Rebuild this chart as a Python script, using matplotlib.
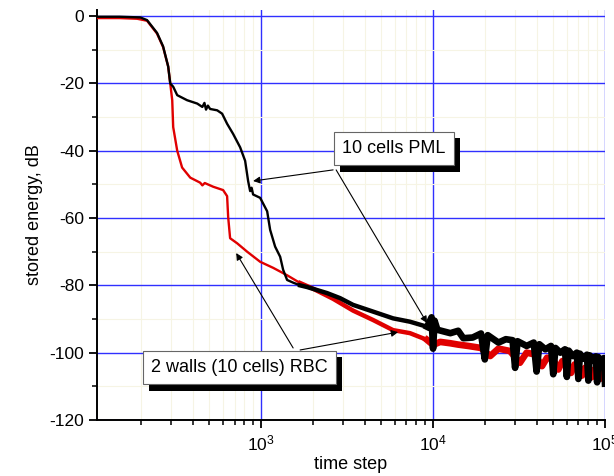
import numpy as np
import matplotlib
matplotlib.use('Agg')
import matplotlib.pyplot as plt
import matplotlib.patheffects as pe
from matplotlib.ticker import LogLocator, MultipleLocator, NullFormatter

plt.rcParams['font.family'] = ['Liberation Sans', 'DejaVu Sans']
plt.rcParams['mathtext.fontset'] = 'custom'
plt.rcParams['mathtext.rm'] = 'Liberation Sans'
plt.rcParams['mathtext.it'] = 'Liberation Sans:italic'
plt.rcParams['axes.unicode_minus'] = False

# 10 cells PML (black)
pml_t = [111, 150, 198, 217, 248, 269, 288, 296, 308, 325, 371, 425, 455, 468, 478, 490,
         505, 555, 593, 634, 687, 755, 807, 840, 863, 880, 898, 987, 1084, 1128, 1206,
         1290, 1343, 1416, 1535, 1685, 1850, 2419, 2878, 3425, 4480, 5850, 7340, 9225,
         9500, 9800, 10000, 10200, 10600, 12600, 14000, 15000, 17000, 19000, 20000,
         20800, 24000, 26500, 29000, 30000, 31000, 35000, 38500, 40000, 41500, 45000,
         48500, 50000, 51500, 55000, 58500, 60000, 61500, 65000, 68500, 70000, 71500,
         75000, 78500, 80000, 81500, 85000, 88500, 90000, 91500, 95000, 98500, 100000]
pml_db = [-0.2, -0.2, -0.4, -1.2, -5.0, -9.0, -15.0, -20.0, -21.0, -23.5, -25.0, -26.0,
          -27.0, -25.8, -27.8, -26.6, -27.6, -28.0, -29.0, -32.0, -35.0, -39.0, -43.0,
          -49.0, -52.0, -51.0, -53.0, -54.0, -58.0, -63.5, -68.5, -71.5, -75.4, -78.4,
          -79.2, -80.0, -80.5, -82.3, -83.8, -85.8, -87.8, -89.8, -90.8, -92.3,
          -91.0, -89.5, -98.8, -90.5, -93.2, -94.2, -93.5, -95.7, -95.5, -94.3, -102.0,
          -94.8, -97.0, -96.0, -96.3, -104.5, -96.6, -98.0, -97.0, -105.6, -97.5, -99.0,
          -98.0, -106.4, -98.6, -100.0, -99.0, -107.2, -99.4, -101.0, -100.0, -107.8,
          -100.3, -101.8, -100.6, -108.3, -100.8, -102.2, -101.1, -108.8, -101.3,
          -102.6, -101.6, -109.2]

# 2 walls (10 cells) RBC (red)
rbc_t = [111, 150, 190, 217, 248, 269, 288, 296, 304, 308, 325, 347, 387, 442, 455, 470,
         526, 601, 634, 643, 660, 725, 829, 987, 1175, 1416, 1685, 2005, 2622, 3425,
         4480, 5850, 7340, 9225, 10000, 11000, 12600, 14000, 16000, 19000, 21500, 24000,
         28000, 32000, 35000, 39000, 43000, 46000, 50000, 53500, 56500, 60000, 63500,
         66500, 70000, 73500, 76500, 80000, 83500, 86500, 90000, 93500, 96500, 100000]
rbc_db = [-0.6, -0.6, -0.8, -1.4, -5.2, -9.2, -15.0, -20.0, -25.0, -33.0, -40.0, -45.0,
          -48.0, -49.5, -50.3, -49.6, -50.7, -51.7, -53.5, -59.7, -66.0, -67.5, -70.0,
          -73.0, -74.8, -77.0, -79.3, -81.0, -84.0, -87.5, -90.3, -93.3, -94.2, -96.2,
          -97.7, -96.8, -97.2, -97.6, -98.0, -98.6, -101.0, -98.8, -99.5, -103.0, -100.0,
          -100.5, -104.0, -101.5, -102.0, -105.0, -102.5, -103.0, -106.0, -103.5, -104.0,
          -106.8, -104.5, -105.0, -107.3, -105.0, -105.5, -107.8, -105.8, -106.5]

fig = plt.figure(figsize=(6.14, 4.76), dpi=100)
ax = fig.add_axes([97 / 614, 1 - 420 / 476, 508 / 614, 410 / 476])

pml_t, pml_db = np.array(pml_t), np.array(pml_db)
rbc_t, rbc_db = np.array(rbc_t), np.array(rbc_db)

# thin early part, noisy band gets thicker with time
for t, db, c, z in [(rbc_t, rbc_db, '#e00000', 3), (pml_t, pml_db, 'black', 4)]:
    ax.plot(t, db, color=c, lw=1.7, zorder=z)
    m = t >= 1600
    ax.plot(t[m], db[m], color=c, lw=3.2, zorder=z, solid_joinstyle='round')
    m = t >= 9000
    ax.plot(t[m], db[m], color=c, lw=4.8, zorder=z, solid_joinstyle='round')

ax.set_xscale('log')
ax.set_xlim(111, 1e5)
ax.set_ylim(-120, 1.8)

ax.xaxis.set_major_locator(LogLocator(base=10))
ax.xaxis.set_minor_locator(LogLocator(base=10, subs=np.arange(2, 10)))
ax.xaxis.set_minor_formatter(NullFormatter())
ax.yaxis.set_major_locator(MultipleLocator(20))
ax.yaxis.set_minor_locator(MultipleLocator(10))

ax.set_axisbelow(True)
ax.grid(which='major', color='#3030ff', lw=1.0)
ax.grid(which='minor', color='#f6f4e4', lw=0.8)

for s in ['top', 'right']:
    ax.spines[s].set_visible(False)
for s in ['left', 'bottom']:
    ax.spines[s].set_linewidth(1.4)

ax.tick_params(which='major', direction='out', length=6, width=1.3, labelsize=12.5)
ax.tick_params(which='minor', direction='out', length=3.5, width=1.1)

ax.set_xlabel('time step', fontsize=13, labelpad=2)
ax.set_ylabel('stored energy, dB', fontsize=13, labelpad=4)

arrow = dict(arrowstyle='-|>', color='black', lw=0.8, mutation_scale=10,
             shrinkA=0, shrinkB=0)
ax.annotate('', xy=(898, -49.0), xytext=(2622, -45.7), arrowprops=arrow, zorder=6)
ax.annotate('', xy=(9225, -91.2), xytext=(2730, -45.7), arrowprops=arrow, zorder=6)
ax.annotate('', xy=(716, -70.4), xytext=(1535, -98.6), arrowprops=arrow, zorder=6)
ax.annotate('', xy=(6260, -93.9), xytext=(1685, -99.2), arrowprops=arrow, zorder=6)

shadow = [pe.SimplePatchShadow(offset=(4.5, -4.5), shadow_rgbFace='black', alpha=1),
          pe.Normal()]
for x, y, label in [(5930, -39.4, '10 cells PML'),
                    (745, -104.5, '2 walls (10 cells) RBC')]:
    t = ax.text(x, y, label, ha='center', va='center', fontsize=13, zorder=7,
                bbox=dict(boxstyle='square,pad=0.45', fc='white', ec='#666666', lw=0.8))
    t.get_bbox_patch().set_path_effects(shadow)

plt.savefig('out.png', dpi=100)
